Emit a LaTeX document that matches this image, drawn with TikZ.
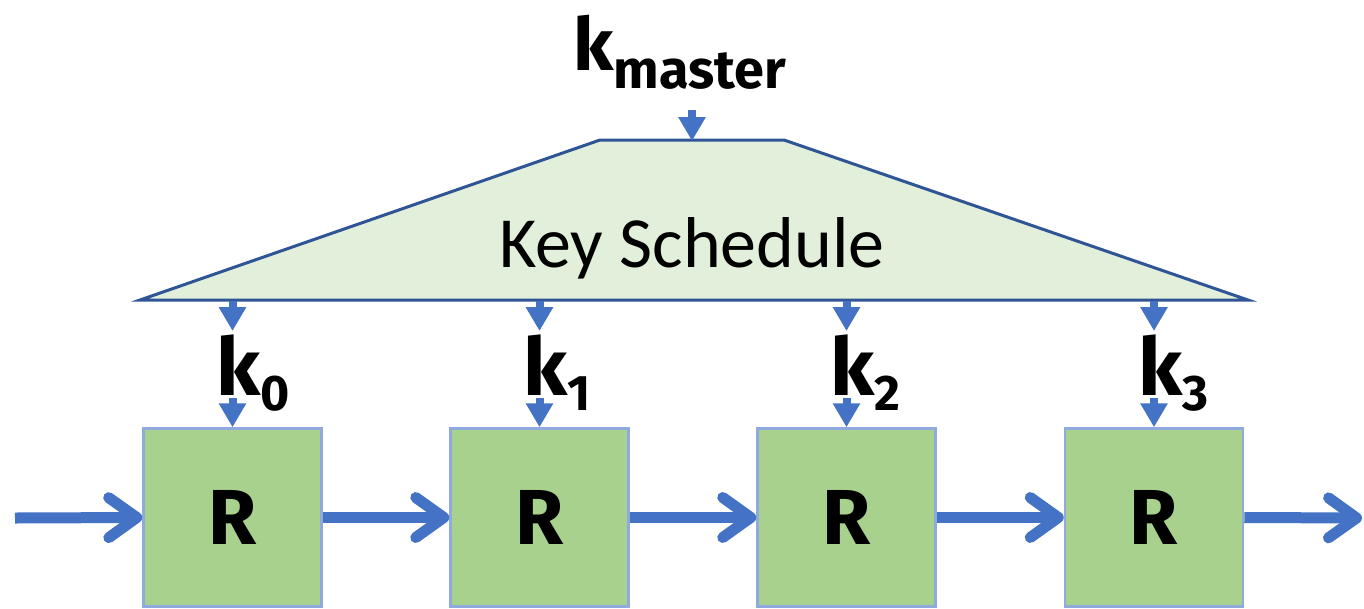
\documentclass[tikz,border=0pt]{standalone}
\usepackage{fontspec}
\setmainfont{Carlito}
\newfontfamily\lblfont{Fira Sans}
\usetikzlibrary{arrows.meta}
\definecolor{arrblue}{HTML}{4472C4}
\definecolor{schedfill}{HTML}{E2EFDA}
\definecolor{schededge}{HTML}{2F5597}
\definecolor{boxfill}{HTML}{A9D18E}
\definecolor{boxedge}{HTML}{8FAADC}
\begin{document}
\begin{tikzpicture}[x=1pt,y=-1pt,
  roundbox/.style={draw=boxedge, fill=boxfill, line width=2.5pt, minimum width=178pt, minimum height=178pt, inner sep=0pt,
    font=\lblfont\bfseries\fontsize{78}{80}\selectfont},
  flow/.style={draw=arrblue, line width=11pt, -{Straight Barb[length=28pt,width=40pt,round]}},
  keyarrow/.style={draw=arrblue, line width=8pt, -{Triangle[length=24pt,width=26pt]}},
  sched/.style={draw=schededge, fill=schedfill, line width=3pt, line join=miter},
  klabel/.style={inner sep=0pt, anchor=base west, font=\lblfont\bfseries\fontsize{80}{80}\selectfont},
]
\useasboundingbox (0,0) rectangle (1364,608);
% key schedule trapezoid
\draw[sched] (600,140) -- (784,140) -- (1248,300) -- (140,300) -- cycle;
\node[inner sep=0pt, font=\fontsize{72}{72}\selectfont] (ks) at (692,248) {Key Schedule};
% master key
\node[inner sep=0pt, anchor=base west, font=\lblfont\bfseries\fontsize{73}{73}\selectfont] (km) at (573,70)
  {k\raisebox{-18pt}{\fontsize{54}{54}\selectfont master}};
\coordinate (kmin) at (692,110);
\coordinate (kmout) at (692,141);
\draw[keyarrow] (kmin) -- (kmout);
% round boxes
\node[roundbox] (R0) at (232.5,517.5) {R};
\node[roundbox] (R1) at (539.5,517.5) {R};
\node[roundbox] (R2) at (846.5,517.5) {R};
\node[roundbox] (R3) at (1154,517.5) {R};
% round key labels
\node[klabel] (k0) at (216,395) {k\raisebox{-15pt}{\fontsize{50}{50}\selectfont 0}};
\node[klabel] (k1) at (523,395) {k\raisebox{-15pt}{\fontsize{50}{50}\selectfont 1}};
\node[klabel] (k2) at (830,395) {k\raisebox{-15pt}{\fontsize{50}{50}\selectfont 2}};
\node[klabel] (k3) at (1138,395) {k\raisebox{-15pt}{\fontsize{50}{50}\selectfont 3}};
% key arrows
\foreach \i/\x in {0/232.5,1/539.5,2/846.5,3/1154}{
  \coordinate (s\i) at (\x,301);
  \coordinate (t\i) at (\x,331);
  \coordinate (u\i) at (\x,398);
  \draw[keyarrow] (s\i) -- (t\i);
  \draw[keyarrow] (u\i) -- (R\i.north);
}
% data flow
\coordinate (in) at (15,518);
\coordinate (out) at (1362,518);
\draw[flow] (in) -- (R0.west);
\draw[flow] (R0.east) -- (R1.west);
\draw[flow] (R1.east) -- (R2.west);
\draw[flow] (R2.east) -- (R3.west);
\draw[flow] (R3.east) -- (out);
\end{tikzpicture}
\end{document}
